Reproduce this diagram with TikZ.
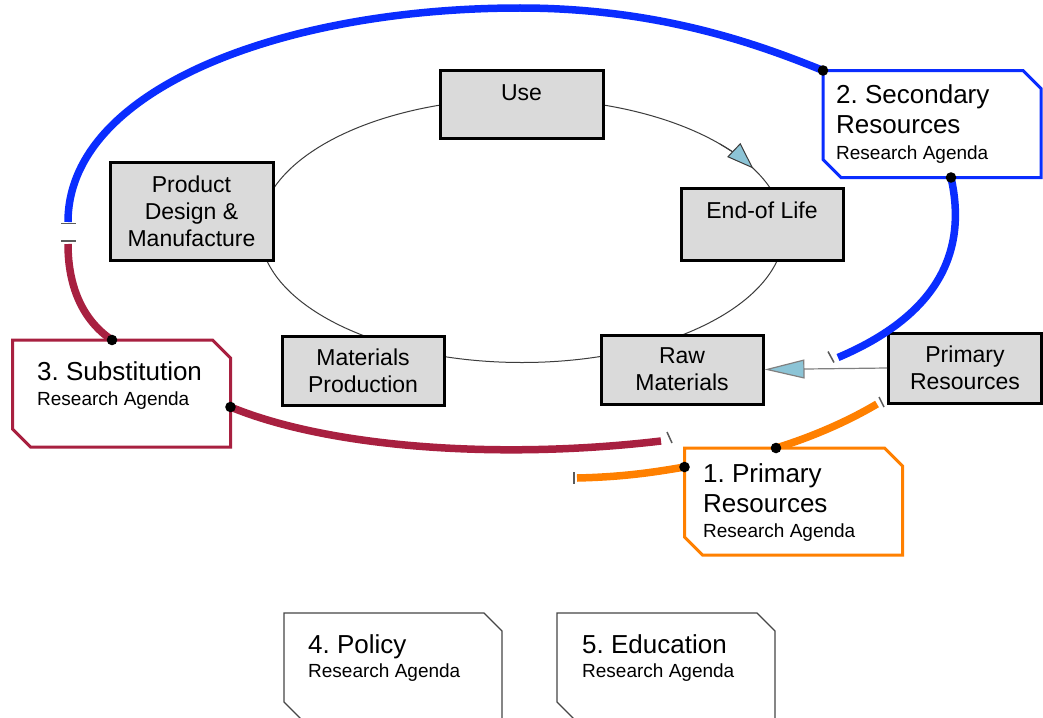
\documentclass[tikz,border=0pt]{standalone}
\usepackage{fontspec}
\setmainfont{Liberation Sans}
\usetikzlibrary{arrows.meta,calc}
\frenchspacing
\definecolor{boxgray}{RGB}{218,218,218}
\definecolor{agblue}{RGB}{10,45,255}
\definecolor{agred}{RGB}{168,32,64}
\definecolor{agorange}{RGB}{255,128,0}
\definecolor{tipfill}{RGB}{140,196,214}
\definecolor{linegray}{RGB}{60,60,60}
\definecolor{markgray}{RGB}{90,90,90}
\definecolor{framegray}{RGB}{70,70,70}
\newcommand\chamframe[2]{\draw[agendaframe,#2] (#1.north west) -- ([xshift=-18pt]#1.north east) -- ([yshift=-18pt]#1.north east) -- (#1.south east) -- ([xshift=18pt]#1.south west) -- ([yshift=18pt]#1.south west) -- cycle;}
\begin{document}
\frenchspacing
\begin{tikzpicture}[x=1pt,y=-1pt,
  stage/.style={draw=black, line width=3pt, fill=boxgray, font=\fontsize{23}{27}\selectfont, align=center, inner sep=0pt},
  agendaslot/.style={minimum width=218pt, minimum height=107pt, inner sep=0pt, outer sep=0pt},
  agendaframe/.style={line width=3pt, fill=white, line join=miter},
  agendatitle/.style={anchor=base west, inner sep=0pt, font=\fontsize{26}{30}\selectfont\frenchspacing},
  agendasub/.style={anchor=base west, inner sep=0pt, font=\fontsize{19}{23}\selectfont},
  band/.style={line width=7.5pt},
  gapmark/.style={draw=markgray, line width=1.5pt},
  cycleline/.style={draw=linegray, line width=1pt},
  dot/.style={fill=black}
]
\path[fill=white] (0,0) rectangle (1043,717);
\useasboundingbox (0,0) rectangle (1043,717);

% life cycle ellipse
\coordinate (c) at (522,230.5);
\draw[cycleline] (c) ellipse [x radius=262, y radius=132];
\draw[cycleline, -{Triangle[length=27pt,width=19pt,fill=tipfill]}] (c) ++(-41:262 and 132) arc[start angle=-41, end angle=-28, x radius=262, y radius=132];

% stage boxes
\node[stage, minimum width=163pt, minimum height=68pt, text height=17pt, text depth=25pt] (use) at (521.5,104) {Use};
\node[stage, minimum width=163pt, minimum height=98pt] (pdm) at (191.5,211) {Product\\Design \&\\Manufacture};
\node[stage, minimum width=162pt, minimum height=72pt, text height=17pt, text depth=29pt] (eol) at (762,224) {End-of Life};
\node[stage, minimum width=162pt, minimum height=69pt] (mp) at (363,370.5) {Materials\\Production};
\node[stage, minimum width=162pt, minimum height=69pt] (raw) at (682,369.5) {Raw\\Materials};
\node[stage, minimum width=153pt, minimum height=70pt] (prim) at (965,368) {Primary\\Resources};

\draw[draw=gray, line width=1.2pt, -{Triangle[length=40pt,width=19pt,fill=tipfill]}] (prim.west) -- (raw.east);

% research agenda slots
\node[agendaslot] (sec) at (932,124) {};
\node[agendaslot] (sub) at (121.5,393.5) {};
\node[agendaslot] (pri) at (793.5,501.5) {};
\node[agendaslot] (pol) at (393,666.5) {};
\node[agendaslot] (edu) at (666,666.5) {};

% coloured bands
\coordinate (blueA) at (68,222);
\coordinate (blueB) at (838,357.5);
\coordinate (redA) at (68,244);
\coordinate (redB) at (661,441);
\coordinate (orA) at (577,478);
\coordinate (orB) at (877,404);

\draw[band, agblue] (blueA) .. controls (68,88) and (285,8) .. (520,8) .. controls (660,8) and (760,45) .. (sec.north west);
\draw[band, agblue] ([xshift=19pt]sec.south) .. controls (965,240) and (950,310) .. (blueB);
\draw[band, agred] (redA) .. controls (68,290) and (85,322) .. ([xshift=-9.5pt]sub.north);
\draw[band, agred] ([yshift=-13.5pt]sub.east) .. controls (330,448) and (500,460) .. (redB);
\draw[band, agorange] (orA) .. controls (620,477) and (650,473) .. ([yshift=-19pt]pri.north west);
\draw[band, agorange] ([xshift=-17.5pt]pri.north) .. controls (815,436) and (850,420) .. (orB);

% break marks
\draw[gapmark] ($(blueA)+(-7,1.5)$) -- ($(blueA)+(8,1.5)$);
\draw[gapmark] ($(redA)+(-7,-3)$) -- ($(redA)+(8,-3)$);
\draw[gapmark] ($(redB)+(6,-9)$) -- ($(redB)+(11,2)$);
\draw[gapmark] ($(orA)+(-3,-6)$) -- ($(orA)+(-3,6)$);
\draw[gapmark] ($(orB)+(2,-7)$) -- ($(orB)+(7,3)$);
\draw[gapmark] ($(blueB)+(-10,-6)$) -- ($(blueB)+(-4,5)$);

% frames
\chamframe{sec}{draw=agblue}
\chamframe{sub}{draw=agred}
\chamframe{pri}{draw=agorange}
\chamframe{pol}{draw=framegray, line width=1.3pt}
\chamframe{edu}{draw=framegray, line width=1.3pt}

% dots
\fill[dot] (sec.north west) circle (5.3pt);
\fill[dot] ([xshift=19pt]sec.south) circle (5.3pt);
\fill[dot] ([xshift=-9.5pt]sub.north) circle (5.3pt);
\fill[dot] ([yshift=-13.5pt]sub.east) circle (5.3pt);
\fill[dot] ([yshift=-19pt]pri.north west) circle (5.3pt);
\fill[dot] ([xshift=-17.5pt]pri.north) circle (5.3pt);

% agenda texts
\node[agendatitle] (sect1) at (836,103) {2. Secondary};
\node[agendatitle] (sect2) at (836,133) {Resources};
\node[agendasub] (sect3) at (836,159) {Research Agenda};
\node[agendatitle] (subt1) at (37,380) {3. Substitution};
\node[agendasub] (subt2) at (37,405) {Research Agenda};
\node[agendatitle] (prit1) at (703,482) {1. Primary};
\node[agendatitle] (prit2) at (703,512) {Resources};
\node[agendasub] (prit3) at (703,537) {Research Agenda};
\node[agendatitle] (polt1) at (308,653) {4. Policy};
\node[agendasub] (polt2) at (308,677) {Research Agenda};
\node[agendatitle] (edut1) at (582,653) {5. Education};
\node[agendasub] (edut2) at (582,677) {Research Agenda};
\end{tikzpicture}
\end{document}
